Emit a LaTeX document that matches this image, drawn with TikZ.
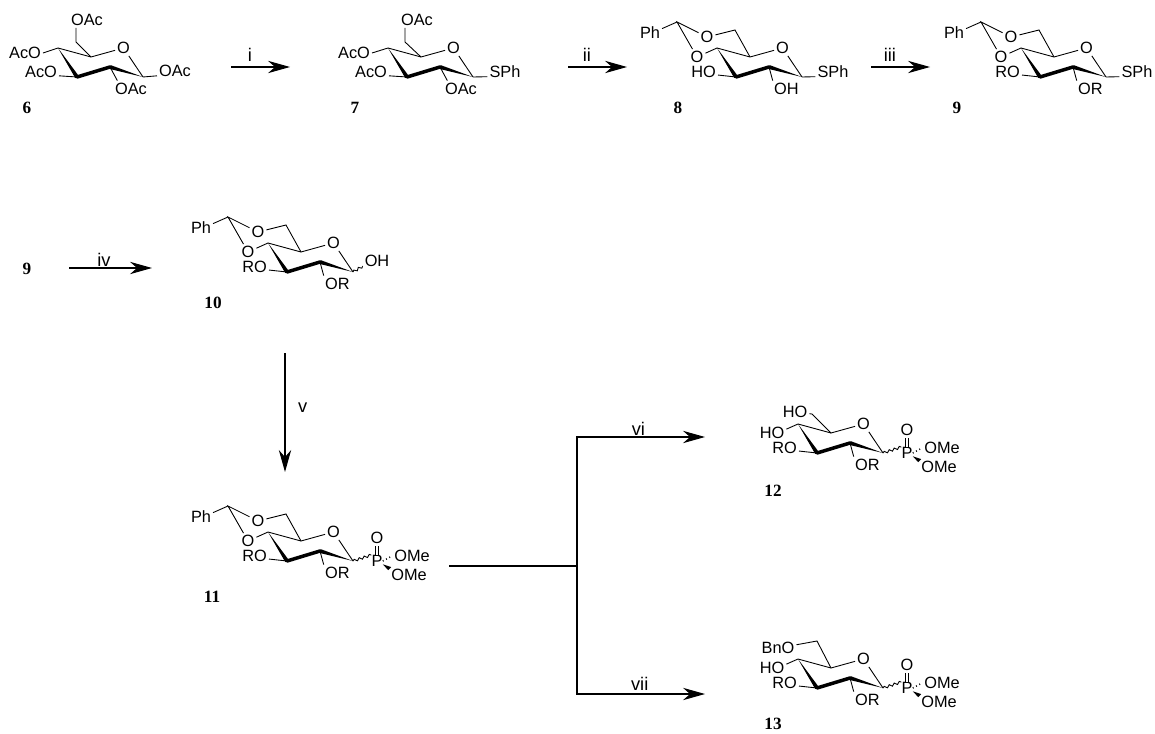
\documentclass[tikz,border=0pt]{standalone}
\usepackage{fontspec}
\setmainfont{Liberation Sans}
\newfontfamily\cpdfont{Liberation Serif}
\usetikzlibrary{arrows.meta,decorations.pathmorphing}
\tikzset{
	>={Stealth[length=12.5pt,width=7pt,inset=4pt]},
	bond/.style={line width=0.5pt},
	atom/.style={inner sep=1pt,font=\fontsize{9.3}{11}\selectfont},
	cpd/.style={inner sep=0pt,font=\cpdfont\bfseries\fontsize{9.8}{11}\selectfont},
	rxn/.style={line width=0.6pt},
	rxnlabel/.style={anchor=base,inner sep=0pt,font=\fontsize{10.4}{12}\selectfont},
	wavy/.style={bond,decorate,decoration={snake,amplitude=0.7pt,segment length=3pt}}
}
\newcommand{\sugar}[5]{
	\begin{scope}[shift={(#2,#3)}]
	    \coordinate (#1c4) at (0,0);
	    \coordinate (#1c5) at (33,9);
	    \coordinate (#1c1) at (85,29);
	    \coordinate (#1c2) at (52,19);
	    \coordinate (#1c3) at (19,29);
	    \node[atom] (#1o) at (65.5,0) {O};
	    \node[atom,anchor=east] (#1o3) at (1,24) {#4};
	    \node[atom,anchor=west] (#1o2) at (55,40.5) {#5};
	    \draw[bond] (#1c4) -- (#1c5) -- (#1o) -- (#1c1);
	    \draw[bond] (#1c3) -- (#1o3.-12);
	    \draw[bond] (#1c2) -- (#1o2.150);
	    \fill (#1c4) -- ([shift={(1.7,-1.1)}]#1c3) -- ([shift={(-1.7,1.1)}]#1c3) -- cycle;
	    \fill (#1c1) -- ([shift={(0.6,-1.9)}]#1c2) -- ([shift={(-0.6,1.9)}]#1c2) -- cycle;
	    \draw[line width=2pt,line cap=round] (#1c3) -- (#1c2);
	\end{scope}
}
\newcommand{\acetal}[3]{
	\begin{scope}[shift={(#2,#3)}]
	    \coordinate (#1c6) at (18,-18);
	    \coordinate (#1ch) at (-40,-26);
	    \node[atom] (#1o6) at (-10,-11) {O};
	    \node[atom] (#1o4) at (-20,9) {O};
	    \node[atom] (#1ph) at (-67,-15) {Ph};
	    \draw[bond] (#1c5) -- (#1c6) -- (#1o6) -- (#1ch) -- (#1o4) -- (#1c4);
	    \draw[bond] (#1ch) -- (#1ph.20);
	\end{scope}
}
\newcommand{\phosphonate}[3]{
	\begin{scope}[shift={(#2,#3)}]
	    \node[atom,inner sep=0pt] (#1p) at (24,0) {P};
	    \node[atom] (#1oeq) at (24,-23) {O};
	    \node[atom] (#1ome) at (59,-5) {OMe};
	    \node[atom] (#1omf) at (56,14) {OMe};
	    \draw[wavy] (#1c1) -- (#1p.north west);
	    \draw[bond,double,double distance=1.4pt] (#1p) -- (#1oeq);
	    \draw[line width=0.9pt,dash pattern=on 0.5pt off 1.6pt] (#1p.east) -- (#1ome.west);
	    \fill (#1p.-30) -- ([shift={(-1,3)}]#1omf.north west) -- ([shift={(2,0)}]#1omf.north west) -- cycle;
	\end{scope}
}
\begin{document}
\begin{tikzpicture}[x=0.02cm,y=-0.02cm]
	    \useasboundingbox (0,0) rectangle (1155,733);

	    \sugar{6}{58}{48}{AcO}{OAc}
	    \coordinate (6c6) at (76,42);
	    \node[atom] (6o6) at (87,20) {OAc};
	    \node[atom] (6o4) at (25,53) {AcO};
	    \node[atom] (6o1) at (175,71) {OAc};
	    \draw[bond] (6c5) -- (6c6) -- (6c6 |- 6o6.south);
	    \draw[bond] (6c4) -- (6o4.east);
	    \draw[bond] (6c1) -- (6o1.195);
	    \node[cpd] (lbl6) at (27,108) {6};

	    \sugar{7}{388}{48}{AcO}{OAc}
	    \coordinate (7c6) at (405,42);
	    \node[atom] (7o6) at (417,20) {OAc};
	    \node[atom] (7o4) at (354,53) {AcO};
	    \node[atom] (7s) at (505,72) {SPh};
	    \draw[bond] (7c5) -- (7c6) -- (7c6 |- 7o6.south);
	    \draw[bond] (7c4) -- (7o4.east);
	    \draw[bond] (7c1) -- (7s.195);
	    \node[cpd] (lbl7) at (355,108) {7};

	    \sugar{8}{717}{48}{HO}{OH}
	    \acetal{8}{717}{48}
	    \node[atom] (8s) at (833,72) {SPh};
	    \draw[bond] (8c1) -- (8s.195);
	    \node[cpd] (lbl8) at (678,108) {8};

	    \sugar{9}{1021}{48}{RO}{OR}
	    \acetal{9}{1021}{48}
	    \node[atom] (9s) at (1137,72) {SPh};
	    \draw[bond] (9c1) -- (9s.195);
	    \node[cpd] (lbl9) at (957,108) {9};

	    \sugar{10}{268}{243}{RO}{OR}
	    \acetal{10}{268}{243}
	    \node[atom] (10oh) at (377,261) {OH};
	    \draw[wavy] (10c1) -- (10oh.200);
	    \node[cpd] (lbl10) at (213,303) {10};
	    \node[cpd] (lbl9b) at (27,269) {9};

	    \sugar{11}{268}{532}{RO}{OR}
	    \acetal{11}{268}{532}
	    \phosphonate{11}{353}{561}
	    \node[cpd] (lbl11) at (212,597) {11};

	    \sugar{12}{798}{424}{RO}{OR}
	    \phosphonate{12}{883}{453}
	    \coordinate (12c6) at (812,414);
	    \node[atom] (12o6) at (795,412) {HO};
	    \node[atom] (12o4) at (772,433) {HO};
	    \draw[bond] (12c5) -- (12c6) -- (12o6);
	    \draw[bond] (12c4) -- (12o4.15);
	    \node[cpd] (lbl12) at (773,491) {12};

	    \sugar{13}{798}{659}{RO}{OR}
	    \phosphonate{13}{883}{688}
	    \coordinate (13c6) at (817,641);
	    \node[atom] (13o6) at (778,648) {BnO};
	    \node[atom] (13o4) at (772,668) {HO};
	    \draw[bond] (13c5) -- (13c6) -- (13o6.10);
	    \draw[bond] (13c4) -- (13o4.15);
	    \node[cpd] (lbl13) at (773,724) {13};

	    \coordinate (a1) at (231,67);
	    \coordinate (b1) at (290,67);
	    \coordinate (a2) at (568,67);
	    \coordinate (b2) at (627,67);
	    \coordinate (a3) at (871,67);
	    \coordinate (b3) at (930,67);
	    \coordinate (a4) at (69,268);
	    \coordinate (b4) at (152,268);
	    \coordinate (a5) at (285,353);
	    \coordinate (b5) at (285,472);
	    \coordinate (s) at (449,566);
	    \coordinate (j) at (577,566);
	    \coordinate (t) at (577,437);
	    \coordinate (u) at (577,694);
	    \coordinate (b6) at (705,437);
	    \coordinate (b7) at (705,694);
	    \draw[rxn,->] (a1) -- node[rxnlabel,pos=0.32,yshift=3pt] (li) {i} (b1);
	    \draw[rxn,->] (a2) -- node[rxnlabel,pos=0.32,yshift=3pt] (lii) {ii} (b2);
	    \draw[rxn,->] (a3) -- node[rxnlabel,pos=0.32,yshift=3pt] (liii) {iii} (b3);
	    \draw[rxn,->] (a4) -- node[rxnlabel,pos=0.42,yshift=1pt] (liv) {iv} (b4);
	    \draw[rxn,->] (a5) -- node[rxnlabel,pos=0.5,xshift=10pt] (lv) {v} (b5);
	    \draw[rxn] (s) -- (j);
	    \draw[rxn,->] (j) -- (t) -- node[rxnlabel,pos=0.48,yshift=1pt] (lvi) {vi} (b6);
	    \draw[rxn,->] (j) -- (u) -- node[rxnlabel,pos=0.49,yshift=2pt] (lvii) {vii} (b7);
\end{tikzpicture}
\end{document}
